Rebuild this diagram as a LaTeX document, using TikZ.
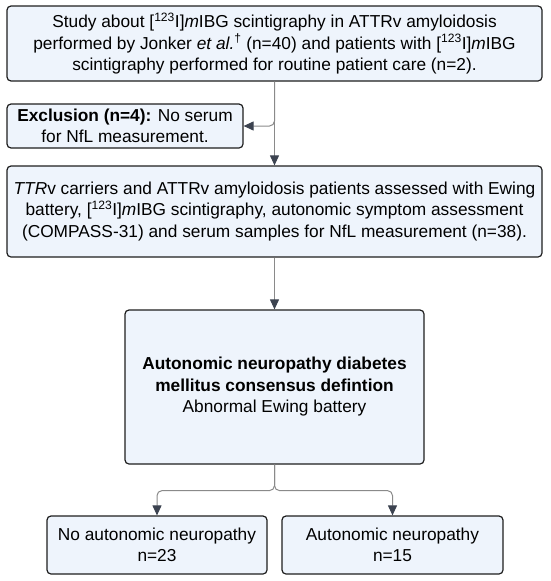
\documentclass[tikz,border=0pt]{standalone}
\usepackage{fontspec}
\setmainfont{Liberation Sans}
\usetikzlibrary{arrows.meta}
\definecolor{boxfill}{HTML}{EEF4FC}
\definecolor{boxline}{HTML}{1E1E1E}
\definecolor{linkc}{HTML}{8A8A8A}
\definecolor{tipc}{HTML}{3C4350}
\tikzset{
  flowbox/.style={draw=boxline, fill=boxfill, line width=1.2pt, rounded corners=4pt,
    align=center, inner sep=0pt, font=\fontsize{17.3}{21.5}\selectfont},
  link/.style={draw=linkc, line width=1pt, rounded corners=5pt,
    -{Triangle[length=10pt,width=9pt,color=tipc]}}
}
\begin{document}
\begin{tikzpicture}[x=1pt,y=-1pt]
\useasboundingbox (0,0) rectangle (550,581);
\node[flowbox, minimum width=535pt, minimum height=75pt] (study) at (274.5,43.5)
  {Study about [\textsuperscript{123}I]\textit{m}IBG scintigraphy in ATTRv amyloidosis\\
   performed by Jonker \textit{et al.}\textsuperscript{\dag} (n=40) and patients with [\textsuperscript{123}I]\textit{m}IBG\\
   scintigraphy performed for routine patient care (n=2).};
\node[flowbox, minimum width=236pt, minimum height=44pt] (excl) at (125,126)
  {\textbf{Exclusion (n=4):} No serum\\for NfL measurement.};
\node[flowbox, minimum width=535pt, minimum height=91pt] (assess) at (274.5,211.5)
  {\textit{TTR}v carriers and ATTRv amyloidosis patients assessed with Ewing\\
   battery, [\textsuperscript{123}I]\textit{m}IBG scintigraphy, autonomic symptom assessment\\
   (COMPASS-31) and serum samples for NfL measurement (n=38).};
\node[flowbox, minimum width=299pt, minimum height=154pt] (defn) at (274.5,387)
  {\textbf{Autonomic neuropathy diabetes}\\
   \textbf{mellitus consensus defintion}\\
   Abnormal Ewing battery};
\node[flowbox, minimum width=220pt, minimum height=58pt] (noan) at (157,545)
  {No autonomic neuropathy\\n=23};
\node[flowbox, minimum width=221pt, minimum height=58pt] (an) at (392.5,545)
  {Autonomic neuropathy\\n=15};
\coordinate (split1) at (study.south |- excl.east);
\coordinate (split2) at ([yshift=-26pt]defn.south);
\draw[link] (study.south) -- (assess.north);
\draw[link] (study.south) -- (split1) -- (excl.east);
\draw[link] (assess.south) -- (defn.north);
\draw[link] (defn.south) -- (split2) -| (noan.north);
\draw[link] (defn.south) -- (split2) -| (an.north);
\end{tikzpicture}
\end{document}
